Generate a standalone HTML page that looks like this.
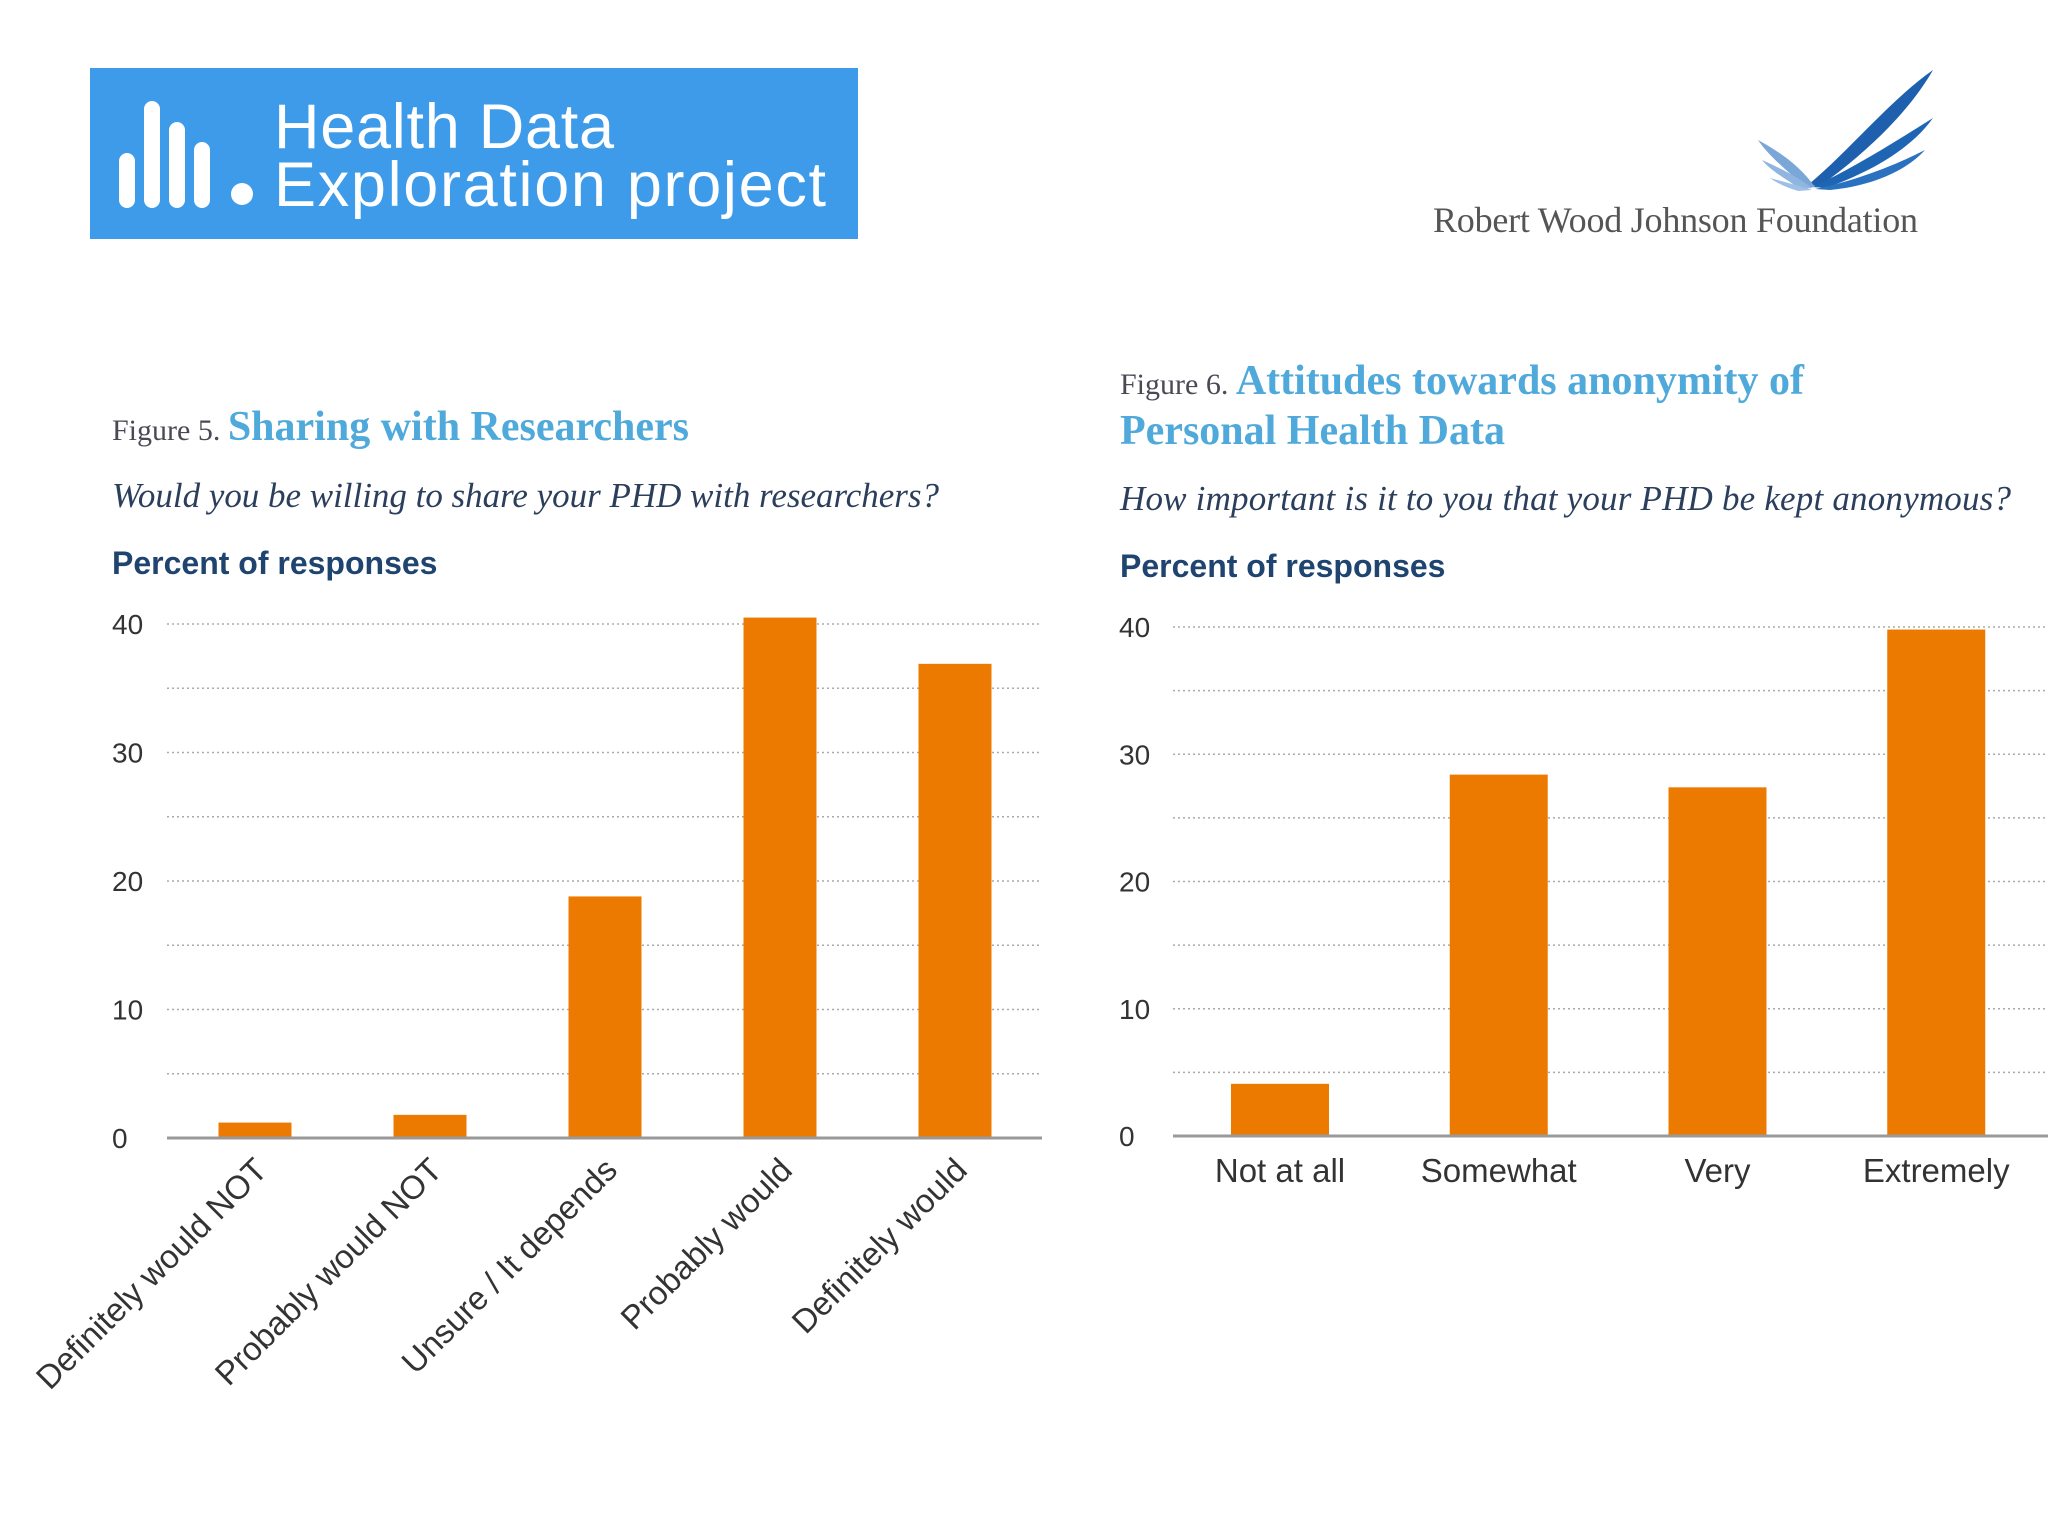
<!DOCTYPE html>
<html><head><meta charset="utf-8"><style>
html,body{margin:0;padding:0;background:#fff;}
svg{display:block;}
</style></head><body>
<svg width="2048" height="1536" viewBox="0 0 2048 1536" xmlns="http://www.w3.org/2000/svg">
<g>
 <rect x="90" y="68" width="768" height="171" fill="#3d9be9"/>
 <g fill="#fff">
  <rect x="119" y="153" width="16" height="55" rx="8"/>
  <rect x="144" y="101" width="16" height="107" rx="8"/>
  <rect x="169" y="122" width="16" height="86" rx="8"/>
  <rect x="194" y="142" width="16" height="66" rx="8"/>
  <circle cx="242" cy="194" r="11"/>
 </g>
 <text x="274" y="148" font-family="Liberation Sans, sans-serif" font-size="63" fill="#fff" textLength="340">Health Data</text>
 <text x="274" y="206" font-family="Liberation Sans, sans-serif" font-size="63" fill="#fff" textLength="552">Exploration project</text>
</g>
<g>
 <path d="M1933 70 C1890 100 1850 150 1808 185 L1820 186 C1870 150 1910 110 1933 70Z" fill="#1e5fae"/>
 <path d="M1933 118 C1890 145 1850 170 1812 187 L1826 188 C1870 172 1910 150 1933 118Z" fill="#1e66b4"/>
 <path d="M1925 150 C1890 168 1850 182 1815 189 L1830 190 C1870 186 1905 172 1925 150Z" fill="#2a72bf"/>
 <path d="M1758 140 C1780 152 1800 166 1815 187 L1805 188 C1790 172 1770 158 1758 140Z" fill="#7aa6d8"/>
 <path d="M1762 160 C1780 168 1800 178 1812 188 L1800 189 C1788 180 1772 172 1762 160Z" fill="#8fb5e0"/>
 <path d="M1770 178 C1785 182 1800 186 1812 190 L1798 191 C1788 188 1778 184 1770 178Z" fill="#9fc0e6"/>
 <text x="1433" y="232" font-family="Liberation Serif, serif" font-size="36" fill="#555" textLength="485">Robert Wood Johnson Foundation</text>
</g>

<g>
 <text x="112" y="440" font-family="Liberation Serif, serif"><tspan font-size="30" fill="#4a4a55">Figure 5. </tspan><tspan font-size="42" font-weight="bold" fill="#4fa9da">Sharing with Researchers</tspan></text>
 <text x="112" y="507" font-family="Liberation Serif, serif" font-style="italic" font-size="35" fill="#2b3f5c" textLength="827">Would you be willing to share your PHD with researchers?</text>
 <text x="112" y="574" font-family="Liberation Sans, sans-serif" font-weight="bold" font-size="32" fill="#1f4470">Percent of responses</text>
</g>
<g>
 <text x="1120" y="394" font-family="Liberation Serif, serif"><tspan font-size="30" fill="#4a4a55">Figure 6. </tspan><tspan font-size="42" font-weight="bold" fill="#4fa9da">Attitudes towards anonymity of</tspan></text>
 <text x="1120" y="444" font-family="Liberation Serif, serif" font-size="42" font-weight="bold" fill="#4fa9da">Personal Health Data</text>
 <text x="1120" y="510" font-family="Liberation Serif, serif" font-style="italic" font-size="35" fill="#2b3f5c" textLength="891">How important is it to you that your PHD be kept anonymous?</text>
 <text x="1120" y="577" font-family="Liberation Sans, sans-serif" font-weight="bold" font-size="32" fill="#1f4470">Percent of responses</text>
</g>
<g id="chart5"></g>
<g id="chart6"></g>
</svg>
<script>
const cats5 = ["Definitely would NOT","Probably would NOT","Unsure / It depends","Probably would","Definitely would"];
const vals5 = [1.2, 1.8, 18.8, 40.5, 36.9];
const cats6 = ["Not at all","Somewhat","Very","Extremely"];
const vals6 = [4.1, 28.4, 27.4, 39.8];
const ticks = [0,10,20,30,40];
const gridVals = [5,10,15,20,25,30,35,40];

const NS = "http://www.w3.org/2000/svg";
function mk(tag, attrs, parent){
  const e = document.createElementNS(NS, tag);
  for (const k in attrs) e.setAttribute(k, attrs[k]);
  parent.appendChild(e);
  return e;
}
function draw(g, cats, vals, cfg){
  const y = v => cfg.y0 - (v/40)*(cfg.y0 - cfg.y40);
  const step = (cfg.x1 - cfg.x0)/cats.length;
  const xc = i => cfg.x0 + cfg.off + step*i;
  gridVals.forEach(v => {
    const l = mk('line', {x1:cfg.x0, x2:cfg.x1, y1:y(v), y2:y(v), stroke:'#aaa', 'stroke-width':1.5, 'stroke-dasharray':'2 3'}, g);
    
    
  });
  ticks.forEach(v => {
    const t = mk('text', {x:cfg.tx, y:y(v)+10, 'font-family':'Liberation Sans, sans-serif', 'font-size':28, fill:'#333'}, g);
    t.textContent = String(v);
    
    
  });
  cats.forEach((c, i) => {
    const r = mk('rect', {x:xc(i)-cfg.bw/2, y:y(vals[i]), width:cfg.bw, height:cfg.y0 - y(vals[i]), fill:'#ed7a00'}, g);
    
    
    let t;
    if (cfg.rot) {
      const ax = xc(i)+14, ay = cfg.y0+34;
      t = mk('text', {x:ax, y:ay, 'text-anchor':'end', transform:`rotate(-45 ${ax} ${ay})`, 'font-family':'Liberation Sans, sans-serif', 'font-size':33, fill:'#333'}, g);
    } else {
      t = mk('text', {x:xc(i), y:cfg.y0+46, 'text-anchor':'middle', 'font-family':'Liberation Sans, sans-serif', 'font-size':33, fill:'#333'}, g);
    }
    t.textContent = c;
    
    
  });
  const ax = mk('line', {x1:cfg.x0, x2:cfg.x1, y1:cfg.y0, y2:cfg.y0, stroke:'#999', 'stroke-width':3}, g);
  
  
}
draw(document.getElementById('chart5'), cats5, vals5, {x0:167, x1:1042, y0:1138, y40:624, off:88, bw:73, tx:112, rot:true});
draw(document.getElementById('chart6'), cats6, vals6, {x0:1173, x1:2048, y0:1136, y40:627, off:107, bw:98, tx:1119, rot:false});
</script>
</body></html>
